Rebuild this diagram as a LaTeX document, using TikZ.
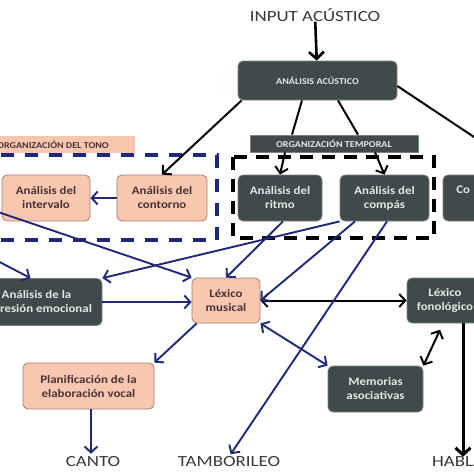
\documentclass[tikz,border=0pt]{standalone}
\usepackage{fontspec}
\setmainfont{Carlito}[FakeStretch=1.12]
\newfontfamily\lblfont{Carlito}[FakeStretch=1.22]
\usetikzlibrary{arrows.meta,calc}
\definecolor{boxdark}{HTML}{414A4A}
\definecolor{boxedge}{HTML}{7A8282}
\definecolor{pinkfill}{HTML}{F9C7B0}
\definecolor{pinkedge}{HTML}{A87F70}
\definecolor{navy}{HTML}{1E2A78}
\definecolor{txtpink}{HTML}{4A3236}
\definecolor{lbl}{HTML}{3A3A3A}
\tikzset{
  darkbox/.style={draw=boxedge, line width=0.8pt, fill=boxdark, rounded corners=5pt,
    text=white!90!black, font=\bfseries\fontsize{11.5}{14}\selectfont, align=center, inner sep=0pt},
  pinkbox/.style={draw=pinkedge, line width=0.8pt, fill=pinkfill, rounded corners=5pt,
    text=txtpink, font=\bfseries\fontsize{11.5}{14}\selectfont, align=center, inner sep=0pt},
  capsbox/.style={font=\bfseries\fontsize{9}{10}\selectfont, inner sep=0pt, align=center},
  bigtext/.style={text=lbl, font=\lblfont\fontsize{15.5}{18}\selectfont, inner sep=0pt},
  tip/.style={-{Straight Barb[length=6pt,width=13pt]}},
  dtip/.style={{Straight Barb[length=6pt,width=13pt]}-{Straight Barb[length=6pt,width=13pt]}},
  blk/.style={line width=2pt, black},
  blu/.style={line width=1.9pt, navy},
  dashblue/.style={draw=navy, line width=3.5pt, dash pattern=on 13pt off 11pt},
  dashblack/.style={draw=black, line width=4pt, dash pattern=on 13pt off 9pt},
}
\begin{document}
\begin{tikzpicture}[x=1pt,y=-1pt]
\useasboundingbox (0,0) rectangle (474,474);
\fill[white] (0,0) rectangle (474,474);

% dashed group frames
\draw[dashblue] (-10,155) rectangle (217,240);
\draw[dashblack] (233,157) rectangle (434,238);

% labels
\node[bigtext] (input) at (315,15) {INPUT ACÚSTICO};
\node[bigtext] (canto) at (93,462) {CANTO};
\node[bigtext] (tamb) at (229,462) {TAMBORILEO};
\node[bigtext] (habla) at (458,462) {HABLA};

% boxes
\node[darkbox, capsbox, minimum width=159pt, minimum height=39pt] (acustico) at (317.5,80.5) {ANÁLISIS ACÚSTICO};
\node[darkbox, capsbox, rounded corners=0pt, minimum width=168pt, minimum height=17pt] (orgtemp) at (334,143.5) {ORGANIZACIÓN TEMPORAL};
\node[capsbox, fill=pinkfill, text=txtpink, minimum width=164pt, minimum height=17pt] (orgtono) at (53,144.5) {ORGANIZACIÓN DEL TONO};

\node[pinkbox, minimum width=88pt, minimum height=46pt] (intervalo) at (46,198) {Análisis del\\intervalo};
\node[pinkbox, minimum width=90pt, minimum height=46pt] (contorno) at (162,198) {Análisis del\\contorno};
\node[darkbox, minimum width=84pt, minimum height=46pt] (ritmo) at (280,198) {Análisis del\\ritmo};
\node[darkbox, minimum width=89pt, minimum height=46pt] (compas) at (384.5,198) {Análisis del\\compás};
\node[darkbox, minimum width=80pt, minimum height=46pt] (cobox) at (483,198) {};
\node[darkbox, draw=none, fill=none, anchor=west] (cotext) at (456,190) {Co};

\node[darkbox, minimum width=131pt, minimum height=47pt] (emoc) at (36.5,302) {Análisis de la\\expresión emocional};
\node[pinkbox, minimum width=68pt, minimum height=45pt] (lexmus) at (226,300.5) {Léxico\\musical};
\node[darkbox, minimum width=76pt, minimum height=45pt] (lexfon) at (445,300.5) {Léxico\\fonológico};
\node[darkbox, minimum width=95pt, minimum height=46pt] (memo) at (375.5,389) {Memorias\\asociativas};
\node[pinkbox, minimum width=131pt, minimum height=46pt] (planif) at (88.5,386) {Planificación de la\\elaboración vocal};

% free ends
\coordinate (coin) at (531,175);
\coordinate (left1) at (-5,211);
\coordinate (left2) at (-12,256);

% black connectors
\draw[blk, line width=2.6pt, -{Straight Barb[length=7pt,width=15pt]}] (input) -- (acustico);
\draw[blk, tip] ([xshift=4pt]acustico.south west) -- (contorno.north);
\draw[blk] ([xshift=-15.5pt]acustico.south) -- ([xshift=-42pt]orgtemp.north);
\draw[blk] ([xshift=20.5pt]acustico.south) -- ([xshift=24pt]orgtemp.north);
\draw[blk, tip] ([yshift=-5.5pt]acustico.east) -- (coin);
\draw[blk, tip] ([xshift=-49pt]orgtemp.south) -- (ritmo.north);
\draw[blk, tip] ([xshift=41pt]orgtemp.south) -- (compas.north);
\draw[blk, dtip] (lexmus.east) -- (lexfon.west);
\draw[blk, dtip, shorten <=7pt] ([xshift=-2pt]lexfon.south) -- (memo.north east);
\draw[blk, line width=3pt, -{Straight Barb[length=7pt,width=15pt]}] ([xshift=18pt]lexfon.south) -- ([xshift=18pt]lexfon.south |- habla.north);

% blue connectors
\draw[blu, tip] (contorno.west) -- (intervalo.east);
\draw[blu, tip] (left1) -- (lexmus.north west);
\draw[blu, tip] (left2) -- ([xshift=-6pt]emoc.north);
\draw[blu, tip] (compas.south west) -- (emoc.north east);
\draw[blu, tip] ([xshift=3pt]ritmo.south) -- (lexmus.north);
\draw[blu, tip] ([xshift=-29.5pt]compas.south) -- (lexmus.east);
\draw[blu, tip, shorten >=3pt] ([xshift=2.5pt]compas.south) -- (tamb.north);
\draw[blu, tip] (emoc.east) -- (emoc.east -| lexmus.west);
\draw[blu, tip] ([xshift=5pt]lexmus.south west) -- (planif.north east);
\draw[blu, tip, shorten >=3pt] ([xshift=2.5pt]planif.south) -- ([xshift=2.5pt]planif.south |- canto.north);
\draw[blu, dtip] (lexmus.south east) -- (memo.north west);
\end{tikzpicture}
\end{document}
